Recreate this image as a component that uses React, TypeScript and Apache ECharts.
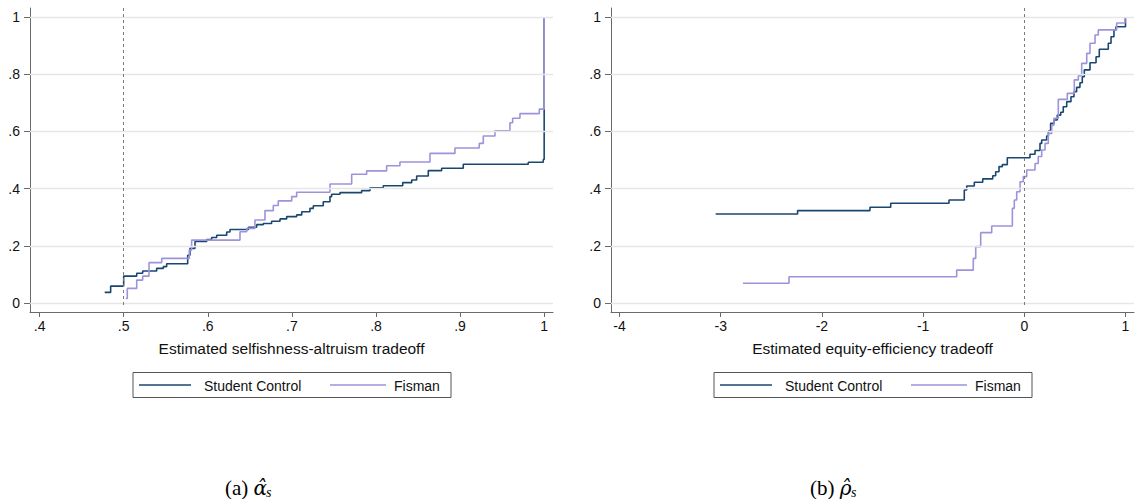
import React, { useEffect, useRef } from "react";
import * as echarts from "echarts";

// ---- Data ----
const leftStudent: [number, number][] = [
  [0.4774, 0.037], [0.4845, 0.059], [0.5, 0.094], [0.5155, 0.104], [0.5226, 0.112],
  [0.5392, 0.121], [0.5471, 0.127], [0.5511, 0.137], [0.5761, 0.167], [0.5788, 0.191],
  [0.5848, 0.215], [0.5987, 0.222], [0.6046, 0.229], [0.6106, 0.237], [0.6225, 0.248],
  [0.6264, 0.257], [0.6484, 0.265], [0.6581, 0.274], [0.666, 0.278], [0.6759, 0.286],
  [0.6859, 0.294], [0.6938, 0.302], [0.7057, 0.308], [0.7117, 0.319], [0.7215, 0.331],
  [0.7255, 0.34], [0.7373, 0.354], [0.7453, 0.372], [0.7473, 0.38], [0.7572, 0.386],
  [0.783, 0.393], [0.7929, 0.403], [0.8087, 0.41], [0.8318, 0.421], [0.8425, 0.43],
  [0.8484, 0.444], [0.8622, 0.463], [0.8781, 0.471], [0.9038, 0.485], [0.9811, 0.492],
  [0.9989, 0.502], [1.0, 0.677], [1.0, 1.0],
];
const leftFisman: [number, number][] = [
  [0.5027, 0.016], [0.5043, 0.051], [0.5155, 0.08], [0.5226, 0.094], [0.5301, 0.141],
  [0.5452, 0.156], [0.578, 0.185], [0.5808, 0.22], [0.6383, 0.249], [0.6463, 0.261],
  [0.6561, 0.29], [0.668, 0.323], [0.6779, 0.341], [0.6838, 0.357], [0.6998, 0.372],
  [0.7057, 0.387], [0.7453, 0.416], [0.7711, 0.45], [0.7889, 0.462], [0.8127, 0.48],
  [0.8285, 0.493], [0.8642, 0.523], [0.8939, 0.542], [0.9228, 0.558], [0.9276, 0.584],
  [0.9415, 0.602], [0.9593, 0.63], [0.9625, 0.646], [0.9712, 0.662], [0.9942, 0.678],
  [1.0, 1.0],
];
const rightStudent: [number, number][] = [
  [-3.05, 0.311], [-2.24, 0.323], [-1.525, 0.335], [-1.32, 0.349], [-0.744, 0.36],
  [-0.593, 0.395], [-0.569, 0.409], [-0.494, 0.422], [-0.411, 0.434], [-0.312, 0.445],
  [-0.283, 0.459], [-0.25, 0.477], [-0.217, 0.484], [-0.168, 0.508], [0.056, 0.52],
  [0.106, 0.533], [0.155, 0.558], [0.172, 0.57], [0.221, 0.584], [0.238, 0.601],
  [0.26, 0.628], [0.293, 0.64], [0.326, 0.657], [0.36, 0.667], [0.385, 0.686],
  [0.419, 0.704], [0.461, 0.721], [0.491, 0.739], [0.517, 0.754], [0.55, 0.77],
  [0.573, 0.791], [0.593, 0.815], [0.649, 0.84], [0.709, 0.861], [0.741, 0.887],
  [0.83, 0.908], [0.857, 0.931], [0.886, 0.955], [0.906, 0.966], [1.0, 1.0],
];
const rightFisman: [number, number][] = [
  [-2.78, 0.069], [-2.325, 0.092], [-0.668, 0.115], [-0.504, 0.156], [-0.48, 0.197],
  [-0.431, 0.246], [-0.322, 0.269], [-0.118, 0.331], [-0.099, 0.36], [-0.075, 0.389],
  [-0.042, 0.424], [-0.01, 0.442], [0.024, 0.465], [0.106, 0.488], [0.138, 0.512],
  [0.172, 0.535], [0.205, 0.558], [0.237, 0.593], [0.271, 0.622], [0.293, 0.646],
  [0.336, 0.712], [0.425, 0.733], [0.494, 0.78], [0.534, 0.795], [0.567, 0.838],
  [0.617, 0.873], [0.649, 0.908], [0.699, 0.937], [0.731, 0.955], [0.913, 0.979],
  [0.995, 1.0],
];
const yTicks = [0, 0.2, 0.4, 0.6, 0.8, 1];
const leftXTicks = [0.4, 0.5, 0.6, 0.7, 0.8, 0.9, 1];
const rightXTicks = [-4, -3, -2, -1, 0, 1];
const seriesNames = ["Student Control", "Fisman"];
const xTitles = ["Estimated selfishness-altruism tradeoff", "Estimated equity-efficiency tradeoff"];
const refLines = [0.5, 0];

const NAVY = "#1a476f";
const LAV = "#9d93dc";
const FONT = "Liberation Sans, Arial, sans-serif";

const fmt = (v: number) => {
  const r = Math.round(v * 10) / 10;
  let s = String(r);
  s = s.replace(/^0\./, ".").replace(/^-0\./, "-.");
  return s;
};

function xAxisCfg(grid: number, min: number, max: number, ticks: number[], name: string) {
  return {
    gridIndex: grid, type: "value", min, max,
    splitLine: { show: false },
    axisLine: { show: true, onZero: false, lineStyle: { color: "#6a6a6a", width: 1 } },
    axisTick: { show: true, length: 5, customValues: ticks, lineStyle: { color: "#6a6a6a" } },
    axisLabel: { customValues: ticks, formatter: fmt, fontSize: 14, color: "#111", margin: 7, fontFamily: FONT },
    name, nameLocation: "middle", nameGap: 28,
    nameTextStyle: { fontSize: 15.5, color: "#111", fontFamily: FONT },
  };
}
function yAxisCfg(grid: number) {
  return {
    gridIndex: grid, type: "value", min: -0.0315, max: 1.0315,
    splitLine: { show: false },
    axisLine: { show: true, onZero: false, lineStyle: { color: "#6a6a6a", width: 1 } },
    axisTick: { show: true, length: 6, customValues: yTicks, lineStyle: { color: "#6a6a6a" } },
    axisLabel: { customValues: yTicks, formatter: fmt, fontSize: 14, color: "#111", margin: 10, fontFamily: FONT },
  };
}

function legend(offset: number) {
  return [
    { type: "rect", shape: { x: 133 + offset, y: 372.5, width: 318, height: 25 }, style: { fill: "#fff", stroke: "#555", lineWidth: 1 } },
    { type: "line", shape: { x1: 139 + offset, y1: 385, x2: 191 + offset, y2: 385 }, style: { stroke: NAVY, lineWidth: 1.5 } },
    { type: "text", x: 204 + offset, y: 385.5, style: { text: seriesNames[0], fontSize: 14, fill: "#111", fontFamily: FONT, verticalAlign: "middle" } },
    { type: "line", shape: { x1: 330 + offset, y1: 385, x2: 386 + offset, y2: 385 }, style: { stroke: LAV, lineWidth: 1.5 } },
    { type: "text", x: 394 + offset, y: 385.5, style: { text: seriesNames[1], fontSize: 14, fill: "#111", fontFamily: FONT, verticalAlign: "middle" } },
  ];
}

function caption(x: number, label: string, greek: string) {
  const SERIF = "DejaVu Serif, Liberation Serif, serif";
  return [
    {
      type: "text", x, y: 486,
      style: {
        text: `{n|${label} }{g|${greek}\u0302}`,
        verticalAlign: "middle",
        rich: {
          n: { fontSize: 21, fill: "#000", fontFamily: "Liberation Serif, serif", lineHeight: 24, verticalAlign: "bottom" },
          g: { fontSize: 20, fontStyle: "italic", fill: "#000", fontFamily: SERIF, lineHeight: 24, verticalAlign: "bottom" },
        },
      },
    },
    {
      type: "text", x: x + 41, y: 492,
      style: { text: "s", fontSize: 14, fontStyle: "italic", fill: "#000", fontFamily: "Liberation Serif, serif", verticalAlign: "middle" },
    },
  ];
}

function gridSeries(idx: number) {
  return {
    type: "line", xAxisIndex: idx, yAxisIndex: idx, data: [], z: 1, silent: true,
    markLine: {
      silent: true, symbol: ["none", "none"], animation: false,
      label: { show: false },
      lineStyle: { color: "#e6e6e6", width: 1.3, type: "solid" },
      data: yTicks.map((t) => ({ yAxis: t })),
    },
  };
}

function refSeries(idx: number, x: number) {
  return {
    type: "line", xAxisIndex: idx, yAxisIndex: idx, data: [], z: 2, silent: true,
    markLine: {
      silent: true, symbol: ["none", "none"], animation: false,
      label: { show: false },
      lineStyle: { color: "#7a7a7a", width: 1, type: [3, 3] },
      data: [[{ coord: [x, 1.0315] }, { coord: [x, -0.008] }]],
    },
  };
}

function stepSeries(idx: number, name: string, data: [number, number][], color: string, z: number) {
  return {
    type: "line", name, xAxisIndex: idx, yAxisIndex: idx, data, step: "end",
    showSymbol: false, symbol: "none", z,
    lineStyle: { color, width: 1.6 }, itemStyle: { color },
  };
}

export default function App() {
  const ref = useRef<HTMLDivElement>(null);
  useEffect(() => {
    if (!ref.current) return;
    const chart = echarts.init(ref.current, undefined, { renderer: "svg" });
    chart.setOption({
      animation: false,
      backgroundColor: "#fff",
      grid: [
        { left: 30, top: 8, width: 523, height: 304 },
        { left: 611, top: 8, width: 523, height: 304 },
      ],
      xAxis: [
        xAxisCfg(0, 0.3886, 1.0105, leftXTicks, xTitles[0]),
        xAxisCfg(1, -4.084, 1.084, rightXTicks, xTitles[1]),
      ],
      yAxis: [yAxisCfg(0), yAxisCfg(1)],
      series: [
        gridSeries(0), gridSeries(1),
        refSeries(0, refLines[0]), refSeries(1, refLines[1]),
        stepSeries(0, seriesNames[0], leftStudent, NAVY, 3),
        stepSeries(0, seriesNames[1], leftFisman, LAV, 4),
        stepSeries(1, seriesNames[0], rightStudent, NAVY, 3),
        stepSeries(1, seriesNames[1], rightFisman, LAV, 4),
      ],
      graphic: [
        ...legend(0), ...legend(581),
        ...caption(225, "(a)", "\u03B1"),
        ...caption(810, "(b)", "\u03C1"),
      ],
    });
    return () => chart.dispose();
  }, []);
  return <div ref={ref} style={{ position: "absolute", left: 0, top: 0, width: 1135, height: 499 }} />;
}
